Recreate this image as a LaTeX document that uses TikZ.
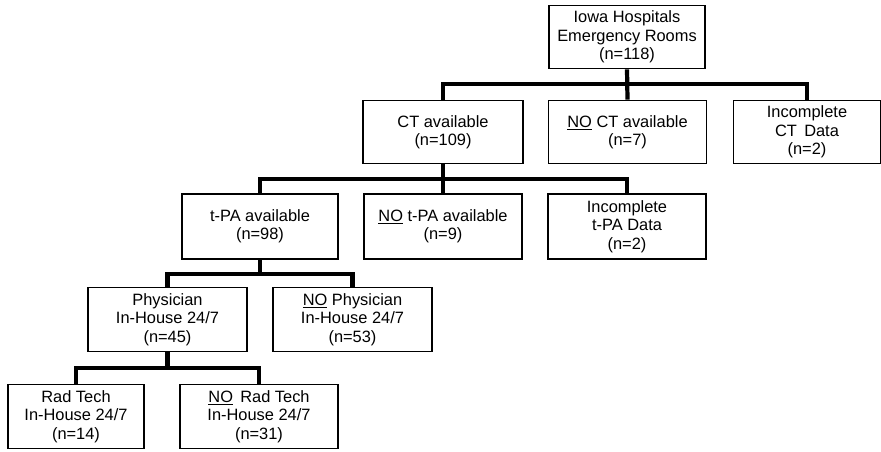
\documentclass[tikz,border=0pt]{standalone}
\usepackage{fontspec}
\setmainfont{Liberation Sans}
\usetikzlibrary{positioning}
\tikzset{
  box/.style={draw=black, line width=1.1pt, fill=white, align=center,
    minimum width=4.74cm, minimum height=1.9cm, inner sep=2pt,
    font=\fontsize{14}{15.6}\selectfont},
  link/.style={draw=black, line width=3.6pt}
}
\begin{document}
\begin{tikzpicture}[x=0.03cm,y=-0.03cm]
\useasboundingbox (0,0) rectangle (881,451);

% Root
\node[box, minimum width=4.68cm] (root) at (627,37) {Iowa Hospitals\\Emergency Rooms\\(n=118)};

% CT level
\node[box, minimum width=4.8cm] (ct) at (443,132) {CT available\\(n=109)};
\node[box] (noct) at (627.5,132) {\underline{NO} CT available\\(n=7)};
\node[box, minimum width=4.4cm] (inct) at (807,132) {Incomplete\\CT\, Data\\(n=2)};

% t-PA level
\node[box, minimum width=4.68cm, minimum height=1.95cm] (tpa) at (260,226.5) {t-PA available\\(n=98)};
\node[box, minimum height=1.95cm] (notpa) at (443,226.5) {\underline{NO} t-PA available\\(n=9)};
\node[box, minimum height=1.95cm] (intpa) at (627,226.5) {Incomplete\\t-PA Data\\(n=2)};

% Physician level
\node[box, minimum width=4.77cm] (phys) at (167.5,319.5) {Physician\\In-House 24/7\\(n=45)};
\node[box, minimum width=4.77cm] (nophys) at (352.5,319.5) {\underline{NO} Physician\\In-House 24/7\\(n=53)};

% Rad tech level
\node[box, minimum width=4.08cm] (rad) at (76,416.5) {Rad Tech\\In-House 24/7\\(n=14)};
\node[box] (norad) at (259,416.5) {\underline{NO}\, Rad Tech\\In-House 24/7\\(n=31)};

% Connectors
\draw[link] (root.south) -- (noct.north);
\draw[link] (ct.north) -- ++(0,-16) -| (inct.north);
\draw[link] (ct.south) -- (notpa.north);
\draw[link] (tpa.north) -- ++(0,-14) -| (intpa.north);
\draw[link] (tpa.south) -- ++(0,16);
\draw[link] (phys.north) -- ++(0,-13) -| (nophys.north);
\draw[link] (phys.south) -- ++(0,18);
\draw[link] (rad.north) -- ++(0,-16) -| (norad.north);

\end{tikzpicture}
\end{document}
